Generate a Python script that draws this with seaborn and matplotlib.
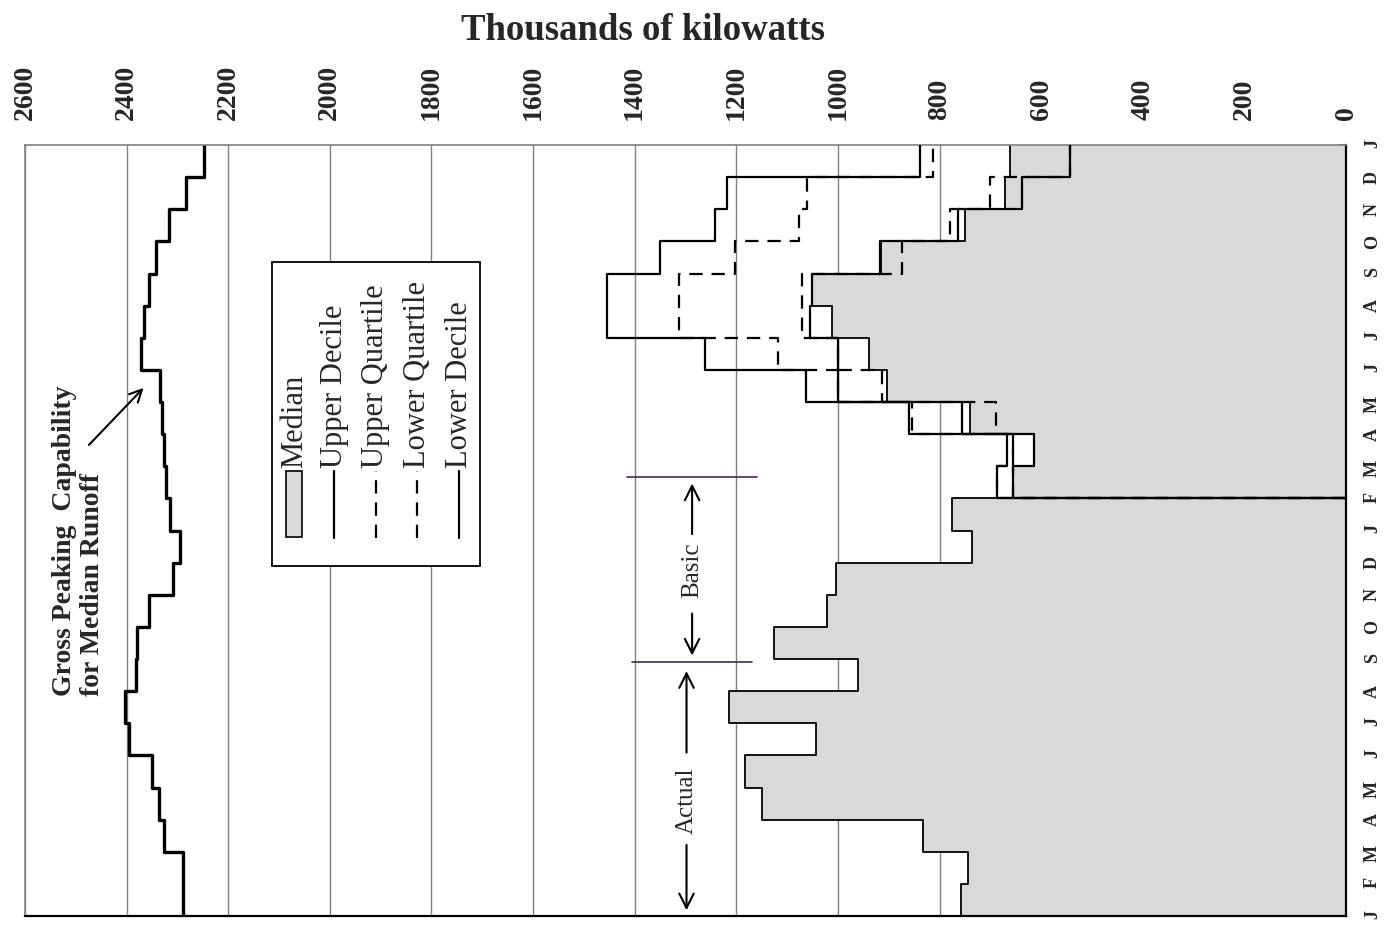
import numpy as np
import pandas as pd
import seaborn as sns
import matplotlib
matplotlib.use("agg")
import matplotlib.pyplot as plt
from matplotlib.patches import Rectangle
from matplotlib.lines import Line2D

sns.set_style("white")
plt.rcParams['font.family'] = ['Liberation Serif', 'DejaVu Serif']

# month labels along the time axis (two years + closing January)
month_labels = list("JFMAMJJASOND") * 2 + ["J"]
kw_ticks = list(range(0, 2601, 200))

# thousands of kW, one value per month, 24 months
gross_peaking = [2290, 2290, 2326, 2336, 2350, 2396, 2404, 2382, 2379, 2356, 2308, 2294,
                 2314, 2322, 2326, 2330, 2334, 2371, 2366, 2355, 2343, 2317, 2284, 2247]
median = [758, 743, 832, 1150, 1182, 1044, 1214, 961, 1125, 1022, 1004, 736,
          776, 656, 615, 740, 904, 938, 1012, 1051, 915, 750, 671, 661]

# basic period spread, months 13..23 (Feb..Dec of second year)
upper_decile = [687, 668, 861, 1062, 1261, 1455, 1455, 1350, 1241, 1218, 838]
upper_quartile = [687, 655, 854, 1000, 1117, 1312, 1312, 1202, 1077, 1061, 812]
lower_quartile = [656, 655, 689, 913, 999, 1071, 1071, 874, 779, 700, 543]
lower_decile = [656, 615, 756, 1000, 999, 1054, 1051, 917, 763, 638, 543]
spread_start = 13

fig = plt.figure(figsize=(13.89, 9.30), dpi=100)
ax = fig.add_axes([25/1389, 1-916/930, 1321/1389, 771/930])

months = np.arange(25)
med_ext = np.append(median, median[-1])

# median shaded area
ax.fill_betweenx(months, med_ext, 0, step='post', color='#d9d9d9', lw=0, zorder=1)
sns.lineplot(x=med_ext, y=months, orient='y', estimator=None, drawstyle='steps-pre',
             color='black', lw=1.3, ax=ax, zorder=2)

# gross peaking capability
gp_ext = np.append(gross_peaking, gross_peaking[-1])
sns.lineplot(x=gp_ext, y=months, orient='y', estimator=None, drawstyle='steps-pre',
             color='black', lw=2.4, ax=ax, zorder=2)

# deciles / quartiles, starting from zero at beginning of spread period
edges = np.arange(spread_start, 25)
for vals, dashed in [(upper_decile, False), (upper_quartile, True),
                     (lower_quartile, True), (lower_decile, False)]:
    xs = np.array([0] + vals)
    sns.lineplot(x=xs, y=edges, orient='y', estimator=None, drawstyle='steps-post',
                 color='black', lw=1.6, ax=ax, zorder=4)
    if dashed:
        ax.lines[-1].set_dashes((6, 4))

ax.set_xlim(2600, 0)
ax.set_ylim(0, 24)
ax.set_xlabel('')
ax.set_ylabel('')
ax.xaxis.tick_top()
ax.set_xticks(kw_ticks)
ax.set_xticklabels([str(v) for v in kw_ticks], rotation=90, fontweight='bold', fontsize=20)
ax.tick_params(axis='x', length=0, pad=18)
ax.yaxis.tick_right()
ax.set_yticks(months)
ax.set_yticklabels(month_labels, rotation=90, fontweight='bold', fontsize=13)
ax.tick_params(axis='y', direction='in', length=5, width=1.2, pad=13, right=True, left=False)
ax.grid(axis='x', color='#808080', lw=1)
ax.grid(axis='y', visible=False)
ax.set_axisbelow(True)
for side in ['left', 'top']:
    ax.spines[side].set_color('#808080')
    ax.spines[side].set_linewidth(1.2)
for side in ['right', 'bottom']:
    ax.spines[side].set_color('black')
    ax.spines[side].set_linewidth(1.6)

fig.text(643/1389, 1-30/930, 'Thousands of kilowatts', ha='center', va='center',
         fontsize=26.5, fontweight='bold')

# gross peaking label + arrow
ax.text(2495, 6.85, 'Gross Peaking  Capability\nfor Median Runoff', rotation=90,
        ha='center', va='bottom', multialignment='left', fontsize=20,
        fontweight='bold', linespacing=1.15)
ax.annotate('', xy=(2363, 16.5), xytext=(2478, 14.6),
            arrowprops=dict(arrowstyle='->', lw=1.5, color='black', mutation_scale=22))

# period markers
period_marks = [(13.68, 1415, 1159), (7.9, 1405, 1169)]
for yy, x0, x1 in period_marks:
    ax.plot([x0, x1], [yy, yy], color='#4b2a4f', lw=1.2, zorder=3)

ax.text(1287, 10.75, 'Basic', rotation=90, ha='center', va='center', fontsize=18)
ax.annotate('', xy=(1287, 13.55), xytext=(1287, 11.8),
            arrowprops=dict(arrowstyle='->', lw=1.5, color='black', mutation_scale=26))
ax.annotate('', xy=(1287, 8.02), xytext=(1287, 9.5),
            arrowprops=dict(arrowstyle='->', lw=1.5, color='black', mutation_scale=26))
ax.text(1298, 3.6, 'Actual', rotation=90, ha='center', va='center', fontsize=18)
ax.annotate('', xy=(1298, 7.71), xytext=(1298, 5.0),
            arrowprops=dict(arrowstyle='->', lw=1.5, color='black', mutation_scale=26))
ax.annotate('', xy=(1298, 0.09), xytext=(1298, 2.3),
            arrowprops=dict(arrowstyle='->', lw=1.5, color='black', mutation_scale=26))

# legend (rotated, drawn by hand)
ax.add_patch(Rectangle((1704, 10.91), 409, 9.45, facecolor='white', edgecolor='black',
                       lw=1.3, zorder=5))
ax.add_patch(Rectangle((2054, 11.8), 33, 2.05, facecolor='#d9d9d9', edgecolor='black',
                       lw=1.2, zorder=6))
ax.text(2070, 13.95, 'Median', rotation=90, ha='center', va='bottom', fontsize=22, zorder=6)
legend_items = [('Upper Decile', 1991, False), ('Upper Quartile', 1910, True),
                ('Lower Quartile', 1828, True), ('Lower Decile', 1745, False)]
for label, xx, dashed in legend_items:
    ln = Line2D([xx, xx], [11.78, 13.86], color='black', lw=1.6, zorder=6)
    if dashed:
        ln.set_dashes((6, 4))
    ax.add_line(ln)
    ax.text(xx, 13.95, label, rotation=90, ha='center', va='bottom', fontsize=22, zorder=6)

plt.savefig('out.png', dpi=100)
plt.close()
